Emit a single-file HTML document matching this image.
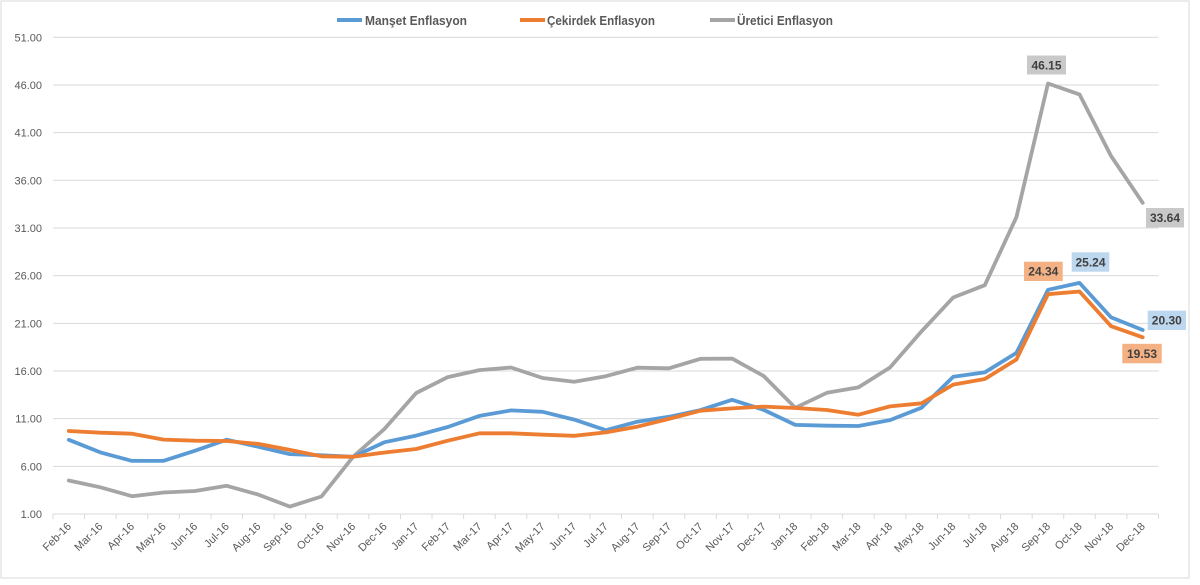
<!DOCTYPE html>
<html>
<head>
<meta charset="utf-8">
<style>
html,body{margin:0;padding:0;background:#fff;}
body{width:1200px;height:585px;overflow:hidden;}
svg{display:block;font-family:"Liberation Sans",Arial,sans-serif;}
</style>
</head>
<body>
<svg id="c" width="1200" height="585" viewBox="0 0 1200 585" xmlns="http://www.w3.org/2000/svg">
<rect x="0" y="0" width="1200" height="585" fill="#fff"/>
<rect x="1" y="1" width="1188" height="577" fill="#fff" stroke="#d9d9d9" stroke-width="1"/>
<g id="grid"></g>
<g id="ylab" font-size="11" fill="#595959" text-anchor="end"></g>
<g id="xlab" font-size="11" fill="#595959" text-anchor="end"></g>
<g id="series" fill="none" stroke-width="3.8" stroke-linejoin="round" stroke-linecap="round"></g>
<!-- legend -->
<g font-size="12.5" font-weight="bold" fill="#595959">
  <line x1="337" y1="20" x2="362" y2="20" stroke="#5b9bd5" stroke-width="4"/>
  <text x="365" y="25" textLength="102" lengthAdjust="spacingAndGlyphs">Manşet Enflasyon</text>
  <line x1="520" y1="20" x2="545" y2="20" stroke="#ed7d31" stroke-width="4"/>
  <text x="547" y="25" textLength="108" lengthAdjust="spacingAndGlyphs">Çekirdek Enflasyon</text>
  <line x1="710" y1="20" x2="735" y2="20" stroke="#a5a5a5" stroke-width="4"/>
  <text x="737" y="25" textLength="96" lengthAdjust="spacingAndGlyphs">Üretici Enflasyon</text>
</g>
<!-- data labels -->
<g font-size="12" font-weight="bold" fill="#404040" text-anchor="middle">
  <rect x="1027" y="55.5" width="39" height="19" fill="#c9c9c9"/>
  <text x="1046.5" y="69.5">46.15</text>
  <rect x="1146" y="208" width="38" height="19.5" fill="#c9c9c9"/>
  <text x="1165" y="222">33.64</text>
  <rect x="1024" y="261.7" width="38.7" height="19.3" fill="#f4b183"/>
  <text x="1043.3" y="275.7">24.34</text>
  <rect x="1071.7" y="252.3" width="37.6" height="19.4" fill="#bdd7ee"/>
  <text x="1090.5" y="266.3">25.24</text>
  <rect x="1147.7" y="310.7" width="38.3" height="19.3" fill="#bdd7ee"/>
  <text x="1166.8" y="324.7">20.30</text>
  <rect x="1122.3" y="343.8" width="39.4" height="19.5" fill="#f4b183"/>
  <text x="1142" y="358">19.53</text>
</g>
</svg>
<script>
(function(){
  var NS="http://www.w3.org/2000/svg";
  function el(tag,attrs,parent,txt){var e=document.createElementNS(NS,tag);for(var k in attrs)e.setAttribute(k,attrs[k]);if(txt!==undefined)e.textContent=txt;parent.appendChild(e);return e;}
  var L=53, R=1158.5, N=35, step=(R-L)/N;
  var y0=514, unit=9.534;
  function Y(v){return y0-(v-1)*unit;}
  function X(i){return L+step*(i+0.5);}
  var grid=document.getElementById('grid'), ylab=document.getElementById('ylab'), xlab=document.getElementById('xlab'), ser=document.getElementById('series');
  for(var v=6; v<=51; v+=5){
    var y=Y(v);
    el('line',{x1:L,y1:y,x2:R,y2:y,stroke:'#d9d9d9','stroke-width':1},grid);
  }
  for(var v=1; v<=51; v+=5){
    el('text',{x:42,y:Y(v)+4},ylab,v.toFixed(2));
  }
  el('line',{x1:L,y1:y0,x2:R,y2:y0,stroke:'#d9d9d9','stroke-width':1},grid);
  for(var i=0;i<=N;i++){
    var x=L+step*i;
    el('line',{x1:x,y1:y0,x2:x,y2:y0+5,stroke:'#d9d9d9','stroke-width':1},grid);
  }
  var m=['Jan','Feb','Mar','Apr','May','Jun','Jul','Aug','Sep','Oct','Nov','Dec'];
  var cats=[];
  for(var i=0;i<N;i++){var mi=(i+1)%12;var yr=16+Math.floor((i+1)/12);cats.push(m[mi]+'-'+yr);}
  for(var i=0;i<N;i++){
    var x=X(i)+3, y=527;
    el('text',{x:x,y:y,transform:'rotate(-45 '+x+' '+y+')'},xlab,cats[i]);
  }
  var blue=[8.78,7.46,6.57,6.58,7.64,8.79,8.05,7.28,7.16,7.00,8.53,9.22,10.13,11.29,11.87,11.72,10.90,9.79,10.68,11.20,11.90,12.98,11.92,10.35,10.26,10.23,10.85,12.15,15.39,15.85,17.90,24.52,25.24,21.62,20.30];
  var orange=[9.71,9.53,9.42,8.80,8.69,8.66,8.35,7.72,7.05,7.00,7.45,7.82,8.69,9.46,9.46,9.32,9.20,9.56,10.16,10.97,11.84,12.08,12.26,12.12,11.91,11.42,12.29,12.61,14.57,15.16,17.20,24.05,24.34,20.70,19.53];
  var gray=[4.51,3.80,2.87,3.25,3.41,3.96,3.03,1.78,2.84,7.0,9.94,13.69,15.36,16.09,16.37,15.26,14.87,15.45,16.34,16.28,17.28,17.30,15.47,12.14,13.71,14.28,16.37,20.16,23.71,25.00,32.13,46.15,45.01,38.54,33.64];
  function path(d,c){var p='';for(var i=0;i<d.length;i++){p+=(i?'L':'M')+X(i).toFixed(1)+' '+Y(d[i]).toFixed(1);}el('path',{d:p,stroke:c},ser);}
  path(gray,'#a5a5a5');
  path(blue,'#5b9bd5');
  path(orange,'#ed7d31');
})();
</script>
</body>
</html>
